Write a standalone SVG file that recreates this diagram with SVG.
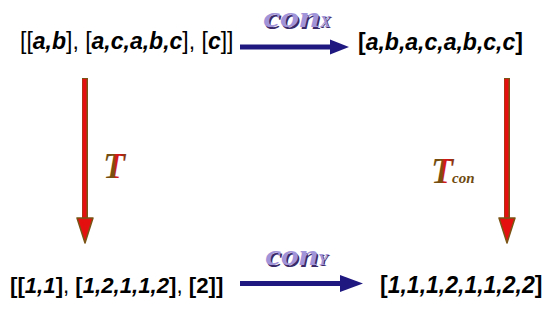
<svg xmlns="http://www.w3.org/2000/svg" width="550" height="318" viewBox="0 0 550 318">
<defs>
<style>
.t{font-family:"Liberation Sans",Arial,sans-serif;font-size:23px;fill:#000}
.b{font-weight:bold}
.i{font-style:italic}
.r{font-weight:normal;font-style:normal}
.conS{font-family:"Liberation Serif","Times New Roman",serif;font-weight:bold;font-style:italic;fill:#3a2a6a}
.conF{font-family:"Liberation Serif","Times New Roman",serif;font-weight:bold;font-style:italic;fill:#a294d8}
.tl{font-family:"Liberation Serif","Times New Roman",serif;font-weight:bold;font-style:italic}
.nav{stroke:#1f1880;stroke-width:5;fill:none}
.navh{fill:#1f1880}
.rs{stroke:#7a5414;stroke-width:6;fill:none}
.rf{stroke:#e41010;stroke-width:4;fill:none}
.rh{fill:#e41010;stroke:#7a5414;stroke-width:1.5;stroke-linejoin:round}
</style>
<linearGradient id="tg" x1="0" y1="0" x2="1" y2="0">
<stop offset="0" stop-color="#6e4a10"/>
<stop offset="0.45" stop-color="#7a5012"/>
<stop offset="0.55" stop-color="#d81818"/>
<stop offset="0.75" stop-color="#c41a14"/>
<stop offset="1" stop-color="#6e4a10"/>
</linearGradient>
</defs>
<rect width="550" height="318" fill="#fff"/>
<g id="n-top-left">
<text class="t" x="20" y="49"><tspan class="r">[[</tspan><tspan class="b i">a,b</tspan><tspan class="r">], [</tspan><tspan class="b i">a,c,a,b,c</tspan><tspan class="r">], [</tspan><tspan class="b i">c</tspan><tspan class="r">]]</tspan></text>
</g>
<g id="n-top-right">
<text class="t b" x="358" y="50">[<tspan class="i">a,b,a,c,a,b,c,c</tspan>]</text>
</g>
<g id="n-bottom-left">
<text class="t" x="10" y="293" font-size="22.2" style="font-size:22.2px"><tspan class="b">[[</tspan><tspan class="b i">1,1</tspan><tspan class="b">]</tspan><tspan class="r">, </tspan><tspan class="b">[</tspan><tspan class="b i">1,2,1,1,2</tspan><tspan class="b">]</tspan><tspan class="r">, </tspan><tspan class="b">[2]]</tspan></text>
</g>
<g id="n-bottom-right">
<text class="t b" x="380" y="293">[<tspan class="i">1,1,1,2,1,1,2,2</tspan>]</text>
</g>
<g id="connectors">
<g id="e-conx">
<line class="nav" x1="240" y1="47" x2="332" y2="47"/>
<polygon class="navh" points="330,39.5 349,47 330,54.5"/>
<text class="conS" x="265" y="28.5" font-size="29" textLength="57" lengthAdjust="spacingAndGlyphs">con</text>
<text class="conF" x="263.5" y="27" font-size="29" textLength="57" lengthAdjust="spacingAndGlyphs">con</text>
<text class="conS" x="321" y="28" font-size="16">X</text>
<text class="conF" x="320" y="27" font-size="16">X</text>
</g>
<g id="e-cony">
<line class="nav" x1="240" y1="283.5" x2="343" y2="283.5"/>
<polygon class="navh" points="340,275 363,283.5 340,292"/>
<text class="conS" x="267" y="266.5" font-size="29" textLength="53" lengthAdjust="spacingAndGlyphs">con</text>
<text class="conF" x="265.5" y="265" font-size="29" textLength="53" lengthAdjust="spacingAndGlyphs">con</text>
<text class="conS" x="319" y="266" font-size="16">Y</text>
<text class="conF" x="318" y="265" font-size="16">Y</text>
</g>
<g id="e-t">
<line class="rs" x1="85" y1="78" x2="85" y2="220"/>
<line class="rf" x1="84.5" y1="79" x2="84.5" y2="220"/>
<polygon class="rh" points="77,218 93,218 85,243"/>
<text class="tl" x="103" y="178" font-size="36" fill="url(#tg)">T</text>
</g>
<g id="e-tcon">
<line class="rs" x1="507" y1="78" x2="507" y2="220"/>
<line class="rf" x1="506.5" y1="79" x2="506.5" y2="220"/>
<polygon class="rh" points="499,218 515,218 507,243"/>
<text class="tl" x="431" y="183" font-size="36" fill="url(#tg)">T</text>
<text class="tl" x="452" y="183" font-size="15" fill="#6e4a10">con</text>
</g>
</g>
</svg>
